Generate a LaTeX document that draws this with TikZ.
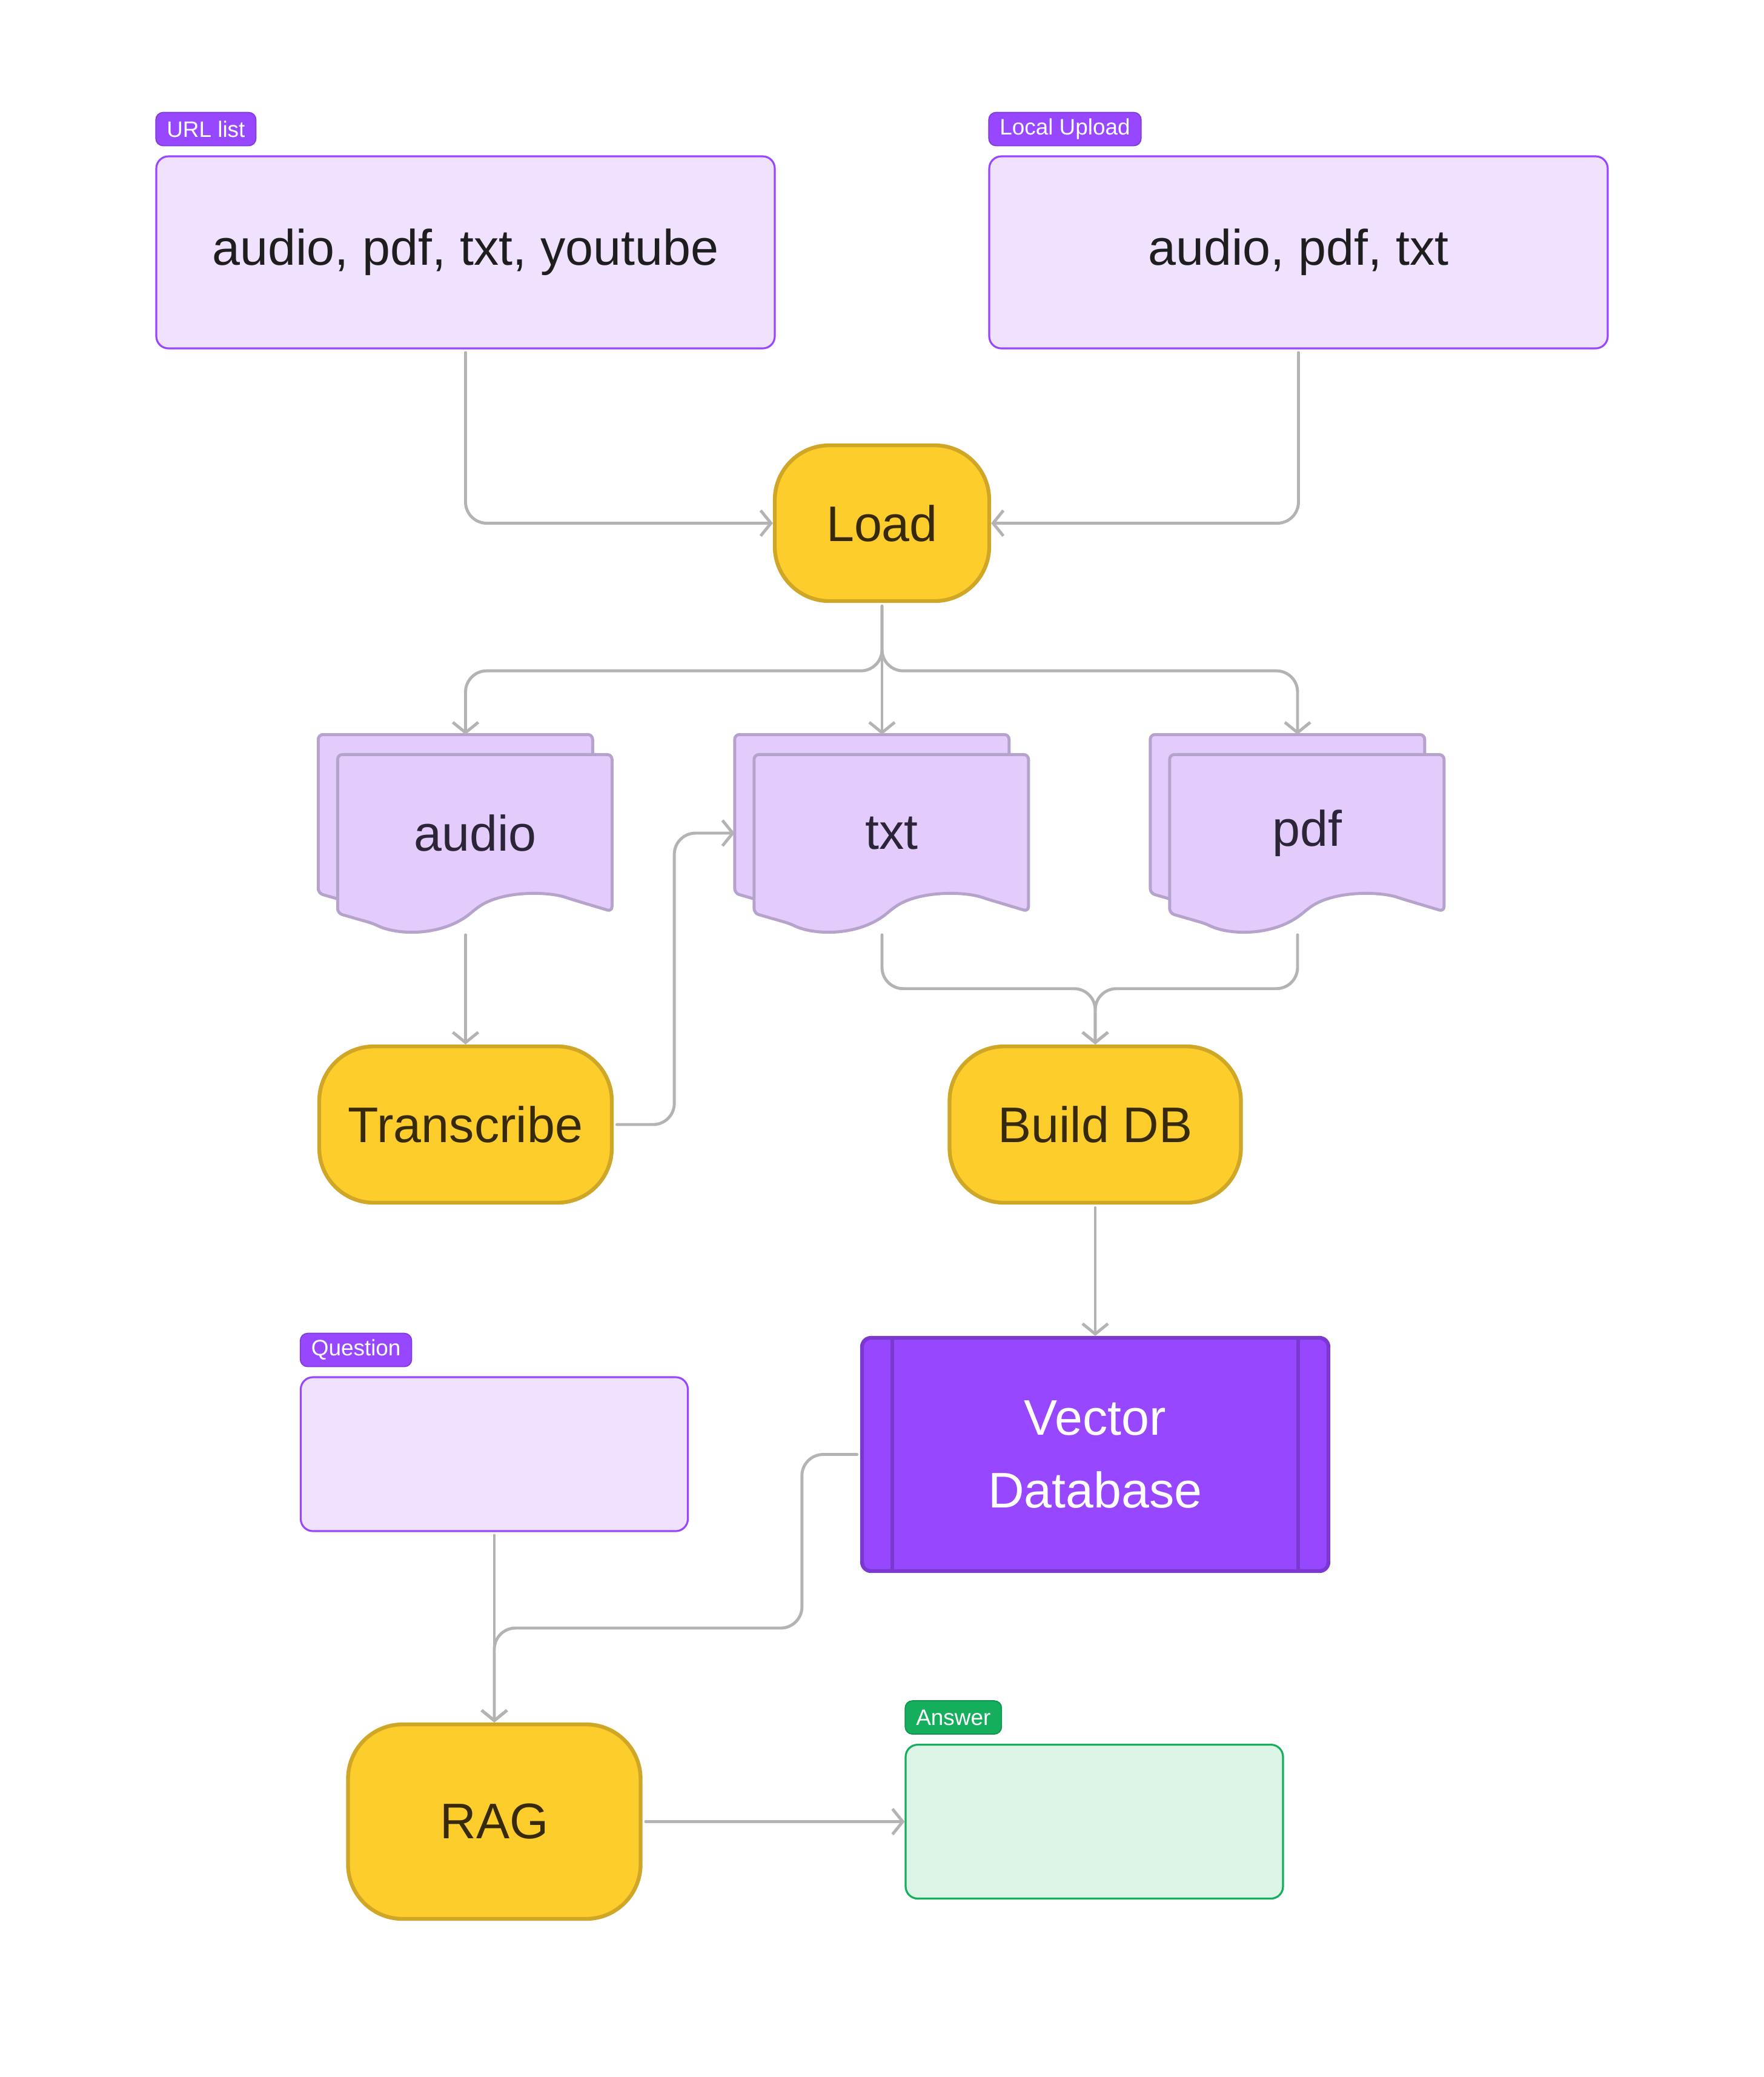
\documentclass[tikz,border=0pt]{standalone}
\usepackage{fontspec}
\setmainfont{Liberation Sans}
\usetikzlibrary{arrows.meta, positioning, backgrounds}

\definecolor{tagpurple}{HTML}{9747FF}
\definecolor{boxpurple}{HTML}{F0E2FE}
\definecolor{sheetfill}{HTML}{E3CCFC}
\definecolor{sheetline}{HTML}{B6A3CC}
\definecolor{yellowfill}{HTML}{FDCD2C}
\definecolor{yellowline}{HTML}{CFA625}
\definecolor{browntext}{HTML}{372A0B}
\definecolor{darktext}{HTML}{1E1E1E}
\definecolor{doctext}{HTML}{2C2537}
\definecolor{dbfill}{HTML}{9747FF}
\definecolor{dbline}{HTML}{7A38D0}
\definecolor{answergreen}{HTML}{14AE5C}
\definecolor{answerfill}{HTML}{DCF4E6}
\definecolor{linegray}{HTML}{B3B3B3}

\newcommand{\mainsize}{\fontsize{23.5}{34}\selectfont}
\newcommand{\tagsize}{\fontsize{10.5}{12}\selectfont}

\tikzstyle{tag} = [rectangle, rounded corners=0.12cm, fill=tagpurple, draw=tagpurple!85!black, line width=0.5pt, text=white, font=\tagsize, minimum height=0.55cm, inner xsep=0.18cm, inner ysep=0pt]
\tikzstyle{donetag} = [tag, fill=answergreen, draw=answergreen!85!black]
\tikzstyle{inbox} = [rectangle, rounded corners=0.2cm, fill=boxpurple, draw=tagpurple, line width=0.9pt, font=\mainsize, text=darktext]
\tikzstyle{outbox} = [rectangle, rounded corners=0.2cm, fill=answerfill, draw=answergreen, line width=0.9pt]
\tikzstyle{process} = [rectangle, rounded corners=0.9cm, fill=yellowfill, draw=yellowline, line width=1.8pt, font=\mainsize, text=browntext]
\tikzstyle{docstack} = [rectangle, minimum width=4.85cm, minimum height=3.24cm, inner sep=0pt, font=\mainsize, text=doctext, execute at begin node=\hspace*{0.32cm}]
\tikzstyle{sheet} = [fill=sheetfill, draw=sheetline, line width=1.4pt, rounded corners=0.08cm]
\tikzstyle{store} = [rectangle, rounded corners=0.15cm, fill=dbfill, draw=dbline, line width=1.8pt, text=white, font=\mainsize, align=center]
\tikzstyle{flow} = [line width=1.4pt, linegray, rounded corners=0.35cm, line cap=round, shorten <=1.5pt, -{Straight Barb[length=1.7mm, width=4.2mm]}]

% one sheet of a document stack, #2/#3 = offset from the stack's corner
\newcommand{\docsheet}[3]{%
  \filldraw [sheet, shift={([xshift=#2, yshift=#3]#1.north west)}] (0,0) -- (4.53,0) -- (4.53,-2.59) -- (3.85,-2.386)
    .. controls (3.45,-2.25) and (2.7,-2.25) .. (2.265,-2.56)
    .. controls (1.75,-3.0) and (1.0,-2.99) .. (0.59,-2.79) -- (0,-2.62) -- cycle;}

\begin{document}
\begin{tikzpicture}

    \useasboundingbox (0,0) rectangle (29.12,-34.28);

    \node (urlbox) [inbox, minimum width=10.21cm, minimum height=3.17cm] at (7.685,-4.165) {audio, pdf, txt, youtube};
    \node (localbox) [inbox, minimum width=10.21cm, minimum height=3.17cm] at (21.435,-4.165) {audio, pdf, txt};
    \node (urltag) [tag, above=0.15cm of urlbox.north west, anchor=south west] {URL list};
    \node (localtag) [tag, above=0.15cm of localbox.north west, anchor=south west] {Local Upload};

    \node (load) [process, minimum width=3.54cm, minimum height=2.57cm] at (14.56,-8.635) {Load};

    \node (audio) [docstack] at (7.685,-13.75) {audio};
    \node (txt) [docstack] at (14.56,-13.75) {txt};
    \node (pdf) [docstack] at (21.42,-13.75) {pdf};

    \node (transcribe) [process, minimum width=4.83cm, minimum height=2.58cm] at (7.685,-18.56) {Transcribe};
    \node (builddb) [process, minimum width=4.81cm, minimum height=2.58cm] at (18.08,-18.56) {Build DB};

    \node (vecdb) [store, minimum width=7.70cm, minimum height=3.85cm] at (18.08,-24.005) {Vector\\Database};
    \draw [dbline, line width=1.8pt] ([xshift=0.53cm]vecdb.north west) -- ([xshift=0.53cm]vecdb.south west);
    \draw [dbline, line width=1.8pt] ([xshift=-0.53cm]vecdb.north east) -- ([xshift=-0.53cm]vecdb.south east);

    \node (question) [inbox, minimum width=6.39cm, minimum height=2.54cm] at (8.16,-24.0) {};
    \node (questiontag) [tag, above=0.15cm of question.north west, anchor=south west] {Question};

    \node (rag) [process, minimum width=4.83cm, minimum height=3.21cm] at (8.16,-30.065) {RAG};
    \node (answer) [outbox, minimum width=6.23cm, minimum height=2.54cm] at (18.065,-30.065) {};
    \node (answertag) [donetag, above=0.15cm of answer.north west, anchor=south west] {Answer};

    \begin{pgfonlayer}{background}
        \foreach \doc in {audio, txt, pdf} {
            \docsheet{\doc}{0cm}{0cm}
            \docsheet{\doc}{0.32cm}{-0.33cm}
        }
    \end{pgfonlayer}

    \draw [flow] (urlbox.south) |- (load.west);
    \draw [flow] (localbox.south) |- (load.east);

    \draw [flow] (load.south) -- ++(0,-1.12) -| (audio.north);
    \draw [flow] (load.south) -- (txt.north);
    \draw [flow] (load.south) -- ++(0,-1.12) -| (pdf.north);

    \draw [flow] (audio.south) -- (transcribe.north);
    \draw [flow] (transcribe.east) -- ++(1.0,0) |- (txt.west);

    \draw [flow] (txt.south) -- ++(0,-0.94) -| (builddb.north);
    \draw [flow] (pdf.south) -- ++(0,-0.94) -| (builddb.north);
    \draw [flow] (builddb.south) -- (vecdb.north);

    \draw [flow] (question.south) -- (rag.north);
    \draw [flow] (vecdb.west) -- ++(-0.96,0) -- ++(0,-2.865) -| (rag.north);
    \draw [flow] (rag.east) -- (answer.west);

\end{tikzpicture}
\end{document}
